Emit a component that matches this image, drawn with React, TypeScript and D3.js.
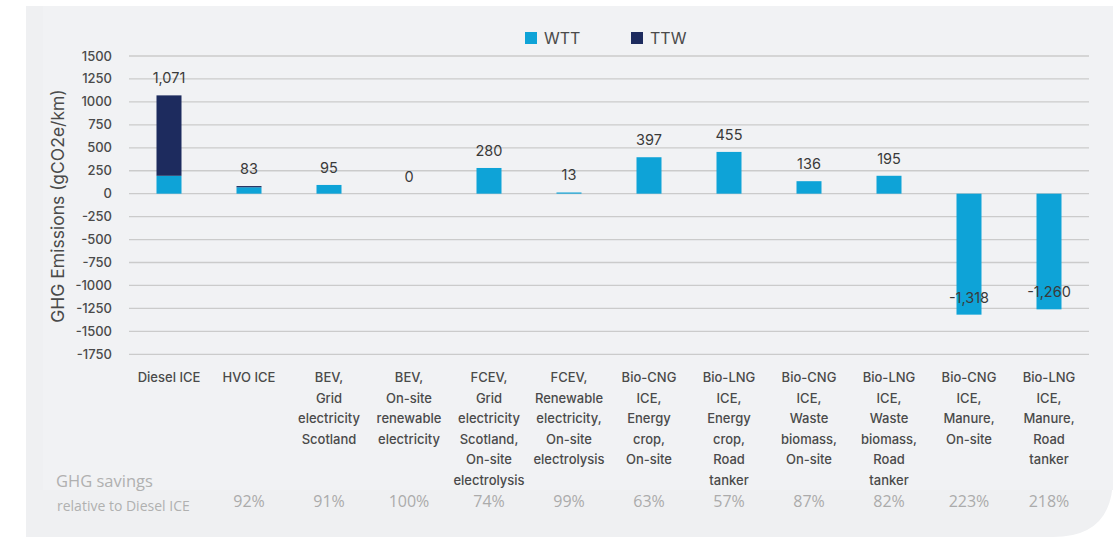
import React from "react";
import * as d3 from "d3";

const categories: string[][] = [
  ["Diesel ICE"],
  ["HVO ICE"],
  ["BEV,", "Grid", "electricity", "Scotland"],
  ["BEV,", "On-site", "renewable", "electricity"],
  ["FCEV,", "Grid", "electricity", "Scotland,", "On-site", "electrolysis"],
  ["FCEV,", "Renewable", "electricity,", "On-site", "electrolysis"],
  ["Bio-CNG", "ICE,", "Energy", "crop,", "On-site"],
  ["Bio-LNG", "ICE,", "Energy", "crop,", "Road", "tanker"],
  ["Bio-CNG", "ICE,", "Waste", "biomass,", "On-site"],
  ["Bio-LNG", "ICE,", "Waste", "biomass,", "Road", "tanker"],
  ["Bio-CNG", "ICE,", "Manure,", "On-site"],
  ["Bio-LNG", "ICE,", "Manure,", "Road", "tanker"],
];
const wtt = [195, 70, 95, 0, 280, 13, 397, 455, 136, 195, -1318, -1260];
const ttw = [876, 13, 0, 0, 0, 0, 0, 0, 0, 0, 0, 0];
const savings: (number | null)[] = [null, 92, 91, 100, 74, 99, 63, 57, 87, 82, 223, 218];
const yTicks = [1500, 1250, 1000, 750, 500, 250, 0, -250, -500, -750, -1000, -1250, -1500, -1750];
const seriesNames = ["WTT", "TTW"];

const COLORS: Record<string, string> = { WTT: "#0ea3d7", TTW: "#1d2b5e" };

export default function App() {
  const W = 1119, H = 538;
  const keys = categories.map((c) => c.join(" "));
  const x = d3.scaleBand<string>().domain(keys).range([129, 1089]).padding(0);
  const y = d3.scaleLinear().domain([-1750, 1500]).range([354.3, 56]);
  const barW = 25;
  const rows = keys.map((k, i) => ({ key: k, WTT: wtt[i], TTW: ttw[i] }));
  const stacked = d3
    .stack<any>()
    .keys(seriesNames)
    .offset(d3.stackOffsetDiverging)(rows);
  const fmt = (v: number) => d3.format(",")(v).replace("−", "-");
  const font = "Inter, 'Noto Sans', sans-serif";
  const panelPath = (() => {
    const x0 = 26, y0 = 6, x1 = 1113, y1 = 537, r = 60;
    return `M${x0},${y0}H${x1}V${y1 - r}Q${x1},${y1} ${x1 - r},${y1}H${x0}Z`;
  })();

  return (
    <svg width={W} height={H} style={{ position: "absolute", left: 0, top: 0, background: "#fff" }}>
      <path d={panelPath} fill="#eff0f2" />
      <rect x={43} y={6} width={1070} height={484} fill="#f1f2f4" />
      {yTicks.map((t) => (
        <g key={t}>
          <line x1={129} x2={1089} y1={y(t)} y2={y(t)} stroke="#cbcbcb" strokeWidth={1.3} />
          <text x={112} y={y(t)} dy="0.35em" textAnchor="end" fontFamily={font} fontSize={13} fontWeight={500} fill="#4a4a4a">
            {t}
          </text>
        </g>
      ))}
      {stacked.map((s) =>
        s.map((d, i) => {
          const y0 = y(d[0]), y1 = y(d[1]);
          const h = Math.abs(y1 - y0);
          if (h <= 0) return null;
          return (
            <rect
              key={s.key + i}
              x={(x(keys[i]) as number) + (x.bandwidth() - barW) / 2}
              y={Math.min(y0, y1)}
              width={barW}
              height={h}
              fill={COLORS[s.key]}
            />
          );
        })
      )}
      {keys.map((k, i) => {
        const total = wtt[i] + ttw[i];
        return (
          <text
            key={k}
            x={(x(k) as number) + x.bandwidth() / 2}
            y={y(total) - 12}
            textAnchor="middle"
            fontFamily={font}
            fontSize={14.5}
            fill="#3a3a3a"
          >
            {fmt(total)}
          </text>
        );
      })}
      {categories.map((lines, i) => (
        <text
          key={i}
          x={(x(keys[i]) as number) + x.bandwidth() / 2}
          textAnchor="middle"
          fontFamily={font}
          fontSize={13}
          fontWeight={500}
          fill="#4a4a4a"
        >
          {lines.map((l, j) => (
            <tspan key={j} x={(x(keys[i]) as number) + x.bandwidth() / 2} y={382 + j * 20.6}>
              {l}
            </tspan>
          ))}
        </text>
      ))}
      <text
        transform={`translate(64,206) rotate(-90)`}
        textAnchor="middle"
        fontFamily={font}
        fontSize={17.5}
        fill="#4a4a4a"
      >
        GHG Emissions (gCO2e/km)
      </text>
      {seriesNames.map((n, i) => (
        <g key={n} transform={`translate(${525 + i * 106},32)`}>
          <rect width={12} height={12} fill={COLORS[n]} />
          <text x={19} y={6} dy="0.36em" fontFamily={font} fontSize={16} fill="#4a4a4a">
            {n}
          </text>
        </g>
      ))}
      <text x={56} y={487} fontFamily="'Open Sans', sans-serif" fontSize={16.5} fill="#b0b0b0">
        GHG savings
      </text>
      <text x={57} y={511} fontFamily="'Open Sans', sans-serif" fontSize={14} fill="#b0b0b0">
        relative to Diesel ICE
      </text>
      {savings.map((s, i) =>
        s == null ? null : (
          <text
            key={i}
            x={(x(keys[i]) as number) + x.bandwidth() / 2}
            y={507}
            textAnchor="middle"
            fontFamily="'Open Sans', sans-serif"
            fontSize={16}
            fill="#ababab"
          >
            {s}%
          </text>
        )
      )}
    </svg>
  );
}
